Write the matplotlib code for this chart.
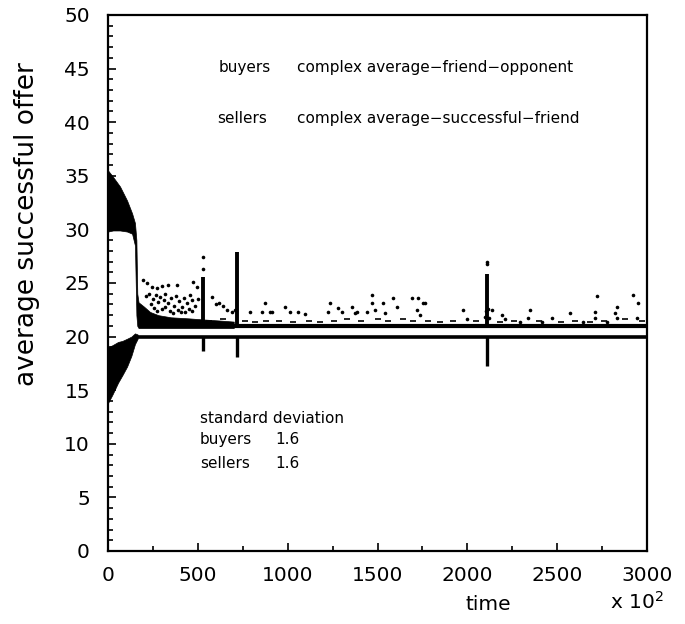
import numpy as np
import matplotlib.pyplot as plt
from matplotlib.ticker import MultipleLocator

# early transient envelopes (time in units of 10^2)
buyers_band_x = [0, 25, 56, 80, 106, 130, 150, 165]
buyers_band_lo = [13.8, 14.6, 15.7, 16.4, 17.2, 18.2, 19.3, 19.8]
buyers_band_hi = [19.0, 19.2, 19.5, 19.6, 19.8, 20.0, 20.3, 20.2]

sellers_band_x = [0, 28, 67, 106, 134, 150, 158, 163, 170, 200, 234, 280, 350, 450, 530, 620, 700]
sellers_band_lo = [29.8, 29.9, 29.9, 29.8, 29.6, 28.5, 22.0, 21.0, 20.8, 20.8, 20.8, 20.8, 20.8, 20.8, 20.8, 20.8, 20.8]
sellers_band_hi = [35.5, 34.9, 34.0, 32.7, 31.5, 30.6, 29.0, 24.0, 23.2, 22.8, 22.3, 22.0, 21.8, 21.7, 21.6, 21.5, 21.4]

# converged levels
buyers_level = 19.95
sellers_level = 20.95
t_end = 3000

# spikes
spike_x = [529, 718, 2110]
sellers_spike_top = [25.6, 27.9, 25.8]
buyers_spike_bottom = [18.7, 18.1, 17.3]

# scattered seller offers above the level
dots_x = [195, 217, 245, 272, 300, 334, 384, 473, 495,
          210, 230, 250, 265, 280, 290, 310, 320, 335, 350, 365, 380, 395, 410, 425, 440, 455, 470, 485, 500,
          255, 300, 345, 390, 430, 470, 240, 275, 320, 360, 405, 450,
          529, 529, 579, 600, 620, 640, 660, 690, 707, 790, 857, 874, 902, 913, 985, 1013, 1058, 1096,
          1225, 1236, 1280, 1302, 1358, 1375, 1386, 1441,
          1469, 1469, 1486, 1531, 1542, 1586, 1609, 1692, 1720, 1725, 1753, 1764, 1737,
          1976, 1998, 2110, 2110, 2098, 2104, 2116, 2122, 2137, 2193, 2210, 2293, 2338, 2349, 2415, 2471, 2572, 2643,
          2711, 2711, 2722, 2777, 2822, 2833, 2833, 2922, 2944, 2950]
dots_y = [25.3, 25.0, 24.6, 24.5, 24.7, 24.8, 24.8, 25.1, 24.6,
          23.8, 24.0, 23.5, 23.9, 23.2, 23.7, 23.4, 24.0, 23.1, 23.6, 22.9, 23.8, 23.3, 22.8, 23.6, 23.1, 23.9, 23.4, 22.9, 23.5,
          22.7, 22.6, 22.4, 22.5, 22.3, 22.4, 23.0, 22.4, 22.8, 22.2, 22.3, 22.6,
          27.4, 26.3, 23.7, 23.0, 23.1, 22.9, 22.5, 22.3, 22.5, 22.3, 22.3, 23.1, 22.3, 22.3, 22.8, 22.3, 22.3, 22.1,
          22.3, 23.1, 22.7, 22.3, 22.8, 22.2, 22.3, 22.3,
          23.9, 23.1, 22.5, 23.1, 22.2, 23.6, 22.8, 23.6, 22.5, 23.6, 23.1, 23.1, 22.0,
          22.5, 21.6, 27.0, 26.8, 21.8, 22.4, 22.6, 21.7, 22.5, 22.0, 21.6, 21.4, 21.7, 22.5, 21.4, 21.7, 22.2, 21.4,
          22.3, 21.7, 23.8, 21.4, 22.2, 22.8, 21.7, 23.9, 21.7, 23.1]

# small dashes just above the seller level
fringe_x = [560, 640, 760, 820, 880, 950, 1030, 1120, 1180, 1260, 1330, 1410, 1500, 1560, 1640, 1700,
            1780, 1850, 1920, 2050, 2180, 2260, 2400, 2520, 2600, 2680, 2760, 2880, 2970]
fringe_y = [21.5, 21.6, 21.5, 21.4, 21.5, 21.5, 21.4, 21.5, 21.4, 21.5, 21.6, 21.5, 21.6, 21.5, 21.6, 21.5,
            21.5, 21.4, 21.5, 21.5, 21.4, 21.5, 21.5, 21.4, 21.5, 21.4, 21.5, 21.6, 21.5]

fig = plt.figure(figsize=(6.85, 6.24), dpi=100)
ax = fig.add_axes([108 / 685, 1 - 551 / 624, 539 / 685, 536 / 624])

ax.fill_between(buyers_band_x, buyers_band_lo, buyers_band_hi, color='black', lw=0.5)
ax.fill_between(sellers_band_x, sellers_band_lo, sellers_band_hi, color='black', lw=0.5)
ax.plot([buyers_band_x[-2], t_end], [buyers_level, buyers_level], color='black', lw=2.6, solid_capstyle='butt')
ax.plot([sellers_band_x[8], t_end], [sellers_level, sellers_level], color='black', lw=3.0, solid_capstyle='butt')
ax.vlines(spike_x, sellers_level, sellers_spike_top, color='black', lw=2.8)
ax.vlines(spike_x, buyers_spike_bottom, buyers_level, color='black', lw=2.4)
ax.plot(dots_x, dots_y, 'o', color='black', ms=2.6, mew=0)
ax.plot(fringe_x, fringe_y, '_', color='black', ms=4, mew=1.2)

ax.set_xlim(0, 3000)
ax.set_ylim(0, 50)
ax.xaxis.set_major_locator(MultipleLocator(500))
ax.xaxis.set_minor_locator(MultipleLocator(250))
ax.yaxis.set_major_locator(MultipleLocator(5))
ax.yaxis.set_minor_locator(MultipleLocator(1))
ax.tick_params(which='both', direction='in', top=False, right=False, width=1.2, labelsize=14.5)
ax.tick_params(which='major', length=6)
ax.tick_params(which='minor', length=3.5)
ax.tick_params(axis='x', pad=11)
ax.tick_params(axis='y', pad=13)
for s in ax.spines.values():
    s.set_linewidth(1.6)

fs = 11
ax.text(618, 45.1, 'buyers', fontsize=fs, va='center')
ax.text(1052, 45.1, 'complex average\u2212friend\u2212opponent', fontsize=fs, va='center')
ax.text(608, 40.3, 'sellers', fontsize=fs, va='center')
ax.text(1052, 40.3, 'complex average\u2212successful\u2212friend', fontsize=fs, va='center')
ax.text(512, 12.4, 'standard deviation', fontsize=fs, va='center')
ax.text(512, 10.4, 'buyers', fontsize=fs, va='center')
ax.text(930, 10.4, '1.6', fontsize=fs, va='center')
ax.text(512, 8.2, 'sellers', fontsize=fs, va='center')
ax.text(930, 8.2, '1.6', fontsize=fs, va='center')

fig.text(27 / 685, 1 - 224 / 624, 'average successful offer', rotation=90, fontsize=19, ha='center', va='center')
fig.text(488 / 685, 1 - 605 / 624, 'time', fontsize=14.5, ha='center', va='center')
fig.text(610 / 685, 1 - 602 / 624, 'x 10$^{2}$', fontsize=14.5, ha='left', va='center')

fig.savefig('out.png', dpi=100)
